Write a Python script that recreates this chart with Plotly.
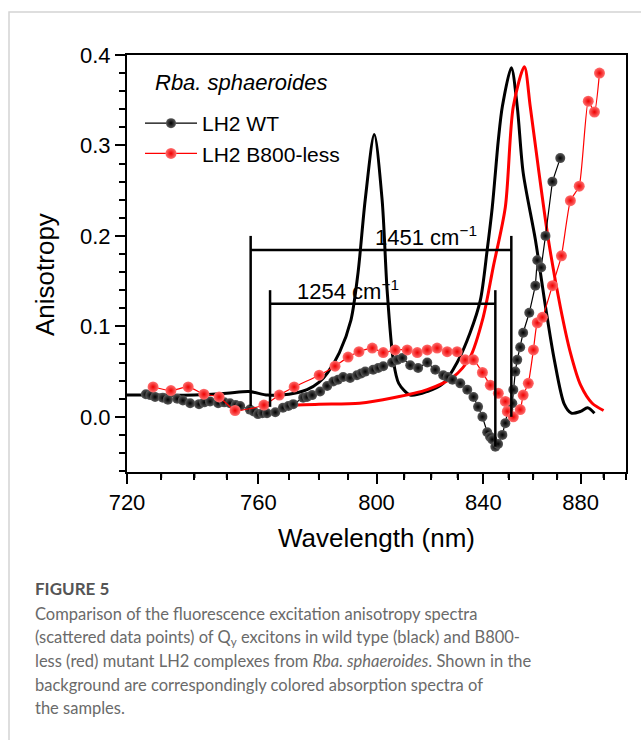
import plotly.graph_objects as go

# ---------------- data ----------------
# Absorption spectra (wavelength nm, absorbance scaled to the anisotropy axis)
abs_wt_nm = [720, 730, 740, 750, 757, 763, 770, 776, 780, 783, 787, 791, 793.5, 796,
             799.2, 802, 803.8, 806, 808, 812.2, 818.5, 824.5, 829.8, 834.8, 838.8,
             841.5, 843.5, 845.9, 847.5, 851.1, 853.5, 855.9, 860.9, 865.1, 868.8,
             873, 876, 880, 883, 886]
abs_wt_val = [0.024, 0.024, 0.024, 0.026, 0.028, 0.024, 0.025, 0.030, 0.038, 0.049, 0.071,
              0.107, 0.160, 0.240, 0.312, 0.240, 0.140, 0.063, 0.037, 0.024, 0.028, 0.037,
              0.060, 0.093, 0.129, 0.185, 0.232, 0.306, 0.343, 0.386, 0.343, 0.270, 0.196,
              0.122, 0.063, 0.014, 0.004, 0.006, 0.010, 0.004]

abs_mut_nm = [772.7, 780, 794, 806, 818.5, 828.3, 834.8, 839.9, 843.9, 848.7, 851.9,
              856.4, 858.8, 862.4, 866.3, 871.3, 875.6, 880, 885, 890]
abs_mut_val = [0.013, 0.014, 0.015, 0.021, 0.030, 0.044, 0.066, 0.110, 0.166, 0.232,
               0.343, 0.387, 0.343, 0.270, 0.196, 0.122, 0.071, 0.035, 0.015, 0.007]

# Fluorescence excitation anisotropy (scattered points)
aniso_wt_nm = [725.5, 726.8, 728.2, 730.5, 732.0, 734.8, 736.5, 738.7, 741.4, 743.0,
               744.8, 747.3, 749.2, 751.0, 752.8, 754.2, 757.3, 758.5, 759.9, 761.3,
               762.8, 765.5, 768.0, 769.8, 771.4, 774.7, 776.0, 777.7, 780.4, 782.8,
               784.9, 786.5, 788.3, 790.7, 793.1, 794.6, 796.0, 798.8, 800.6, 802.4,
               805.6, 807.5, 809.3, 812.2, 815.1, 818.5, 821.5, 824.5, 826.2, 828.0,
               831.0, 833.7, 836.1, 837.9, 839.6, 841.5, 842.6, 843.5, 844.7, 845.8,
               847.5, 848.7, 849.9, 851.5, 851.9, 852.7, 853.5, 854.7, 855.9, 858.4,
               860.9, 861.7, 863.3, 865.1, 868.0, 871.3]
aniso_wt_val = [0.025, 0.024, 0.022, 0.021, 0.019, 0.020, 0.018, 0.015, 0.014, 0.016,
                0.017, 0.015, 0.016, 0.015, 0.013, 0.012, 0.008, 0.006, 0.003, 0.004,
                0.004, 0.005, 0.010, 0.012, 0.014, 0.021, 0.022, 0.024, 0.028, 0.034,
                0.039, 0.041, 0.044, 0.043, 0.046, 0.048, 0.050, 0.052, 0.054, 0.056,
                0.060, 0.063, 0.065, 0.057, 0.054, 0.060, 0.052, 0.046, 0.044, 0.041,
                0.037, 0.030, 0.022, 0.011, 0.000, -0.017, -0.022, -0.025, -0.033, -0.030,
                -0.020, -0.007, 0.008, 0.015, 0.030, 0.050, 0.063, 0.077, 0.093, 0.115,
                0.145, 0.173, 0.165, 0.200, 0.260, 0.286]

aniso_mut_nm = [727.6, 732.9, 738.1, 742.9, 747.6, 752.6, 761.8, 766.8, 771.7, 780.1,
                785.5, 790.0, 793.8, 798.5, 802.4, 806.7, 811.1, 814.8, 818.5, 822.2,
                826.0, 829.8, 832.9, 836.1, 839.6, 842.7, 845.9, 848.7, 849.5, 851.9,
                854.7, 855.9, 858.0, 860.1, 861.7, 863.8, 868.0, 871.8, 875.6, 879.4,
                883.3, 886.0, 888.2]
aniso_mut_val = [0.033, 0.029, 0.033, 0.025, 0.022, 0.007, 0.013, 0.024, 0.033, 0.046,
                 0.056, 0.066, 0.072, 0.076, 0.071, 0.074, 0.074, 0.071, 0.074, 0.076,
                 0.072, 0.072, 0.063, 0.063, 0.049, 0.035, 0.026, 0.017, 0.006, 0.000,
                 0.008, 0.024, 0.037, 0.074, 0.104, 0.110, 0.145, 0.178, 0.239, 0.255,
                 0.349, 0.337, 0.380]

# Energy gaps marked with brackets: (right-end wavelength, gap in cm^-1)
gap_b850_nm, gap_b850_cm = 851.1, 1451
gap_dip_nm, gap_dip_cm = 844.7, 1254

major_nm = [720, 760, 800, 840, 880]
minor_nm = [v for v in range(720, 901, 10) if v not in major_nm]

# ---------------- helpers ----------------
def wn(nm):
    """Wavelength (nm) -> wavenumber (cm^-1); the x axis is linear in energy."""
    return 1e7 / nm

def to_wn(seq):
    return [wn(v) for v in seq]

FONT = "Arial, Liberation Sans, sans-serif"

fig = go.Figure()

# Absorption spectra in the background
fig.add_trace(go.Scatter(x=to_wn(abs_wt_nm), y=abs_wt_val, mode="lines",
                         line=dict(color="black", width=3, shape="spline", smoothing=0.8),
                         showlegend=False, hoverinfo="skip"))
fig.add_trace(go.Scatter(x=to_wn(abs_mut_nm), y=abs_mut_val, mode="lines",
                         line=dict(color="#ff0000", width=3, shape="spline", smoothing=0.8),
                         showlegend=False, hoverinfo="skip"))

# Anisotropy data
fig.add_trace(go.Scatter(x=to_wn(aniso_wt_nm), y=aniso_wt_val, mode="lines+markers",
                         name="LH2 WT",
                         line=dict(color="black", width=1.2),
                         marker=dict(size=10, color="#5a5a5a",
                                     gradient=dict(type="radial", color="#000000"),
                                     line=dict(width=0))))
fig.add_trace(go.Scatter(x=to_wn(aniso_mut_nm), y=aniso_mut_val, mode="lines+markers",
                         name="LH2 B800-less",
                         line=dict(color="#ff0000", width=1.2, shape="spline", smoothing=0.5),
                         marker=dict(size=11, color="#ff7070",
                                     gradient=dict(type="radial", color="#ee0000"),
                                     line=dict(width=0))))

# Energy-gap brackets
def bracket(right_nm, gap_cm, y_bar, y_top, y_left_bot, y_right_bot, label, label_nm):
    x_right = wn(right_nm)
    x_left = x_right + gap_cm
    style = dict(color="black", width=2.5)
    fig.add_shape(type="line", x0=x_left, x1=x_right, y0=y_bar, y1=y_bar, line=style)
    fig.add_shape(type="line", x0=x_left, x1=x_left, y0=y_left_bot, y1=y_top, line=style)
    fig.add_shape(type="line", x0=x_right, x1=x_right, y0=y_right_bot, y1=y_top, line=style)
    fig.add_annotation(x=wn(label_nm), y=y_bar, text=label, showarrow=False,
                       xanchor="left", yanchor="bottom", yshift=-2,
                       font=dict(family=FONT, size=22, color="black"))

bracket(gap_b850_nm, gap_b850_cm, 0.1845, 0.200, 0.012, 0.0,
        "1451 cm<sup>−1</sup>", 798.8)
bracket(gap_dip_nm, gap_dip_cm, 0.125, 0.140, 0.011, -0.033,
        "1254 cm<sup>−1</sup>", 772.0)

# Sample name inside the plot
fig.add_annotation(x=0.052, y=0.933, xref="paper", yref="paper", showarrow=False,
                   text="<i>Rba. sphaeroides</i>", xanchor="left", yanchor="middle",
                   font=dict(family=FONT, size=22, color="black"))

# ---------------- layout ----------------
L, R, T, B = 127, 15, 55, 268
W, H = 641, 740
pw, ph = W - L - R, H - T - B

def px_x(px):
    return (px - L) / pw

def px_y(py):
    return (H - B - py) / ph

axis_common = dict(showgrid=False, zeroline=False, color="black")

fig.update_layout(
    width=W, height=H,
    margin=dict(l=L, r=R, t=T, b=B),
    paper_bgcolor="white", plot_bgcolor="white",
    font=dict(family=FONT, color="black"),
    xaxis=dict(range=[wn(720), wn(900)],
               tickmode="array",
               tickvals=to_wn(major_nm), ticktext=[str(v) for v in major_nm],
               ticks="outside", ticklen=10, tickwidth=2, tickcolor="black",
               minor=dict(tickmode="array", tickvals=to_wn(minor_nm),
                          ticks="outside", ticklen=6, tickwidth=2, tickcolor="black"),
               showline=True, linewidth=2, linecolor="black", mirror=True,
               tickfont=dict(size=22),
               title=dict(text="Wavelength (nm)", font=dict(size=26), standoff=14),
               **axis_common),
    yaxis=dict(range=[-0.061, 0.4],
               tickvals=[0, 0.1, 0.2, 0.3, 0.4], ticktext=["0.0", "0.1", "0.2", "0.3", "0.4"],
               ticks="outside", ticklen=10, tickwidth=2, tickcolor="black",
               minor=dict(dtick=0.02, tick0=0, ticks="outside", ticklen=6,
                          tickwidth=2, tickcolor="black"),
               showline=True, linewidth=2, linecolor="black", mirror=True,
               tickfont=dict(size=22),
               **axis_common),
    legend=dict(x=px_x(140), y=px_y(103), xanchor="left", yanchor="top",
                bgcolor="rgba(0,0,0,0)", itemwidth=52, tracegroupgap=0,
                font=dict(family=FONT, size=21, color="black")),
    showlegend=True,
)

# y-axis title, set slightly below the plot's vertical centre
fig.add_annotation(x=px_x(45), y=px_y(275), xref="paper", yref="paper", showarrow=False,
                   text="Anisotropy", textangle=-90, xanchor="center", yanchor="middle",
                   font=dict(family=FONT, size=26, color="black"))

# Minor wavelength ticks (every 10 nm, non-uniform on the energy axis)
for v in minor_nm:
    fig.add_shape(type="line", xref="x", yref="paper", x0=wn(v), x1=wn(v),
                  y0=0, y1=-6 / ph, line=dict(color="black", width=2))

# Figure panel border
fig.add_shape(type="rect", xref="paper", yref="paper",
              x0=px_x(9), x1=px_x(660), y0=px_y(760), y1=px_y(12),
              line=dict(color="#d4d4d4", width=1.5), layer="below")

# Caption
CAP_FONT = "Lato, Noto Sans, sans-serif"
fig.add_annotation(x=px_x(33), y=px_y(588), xref="paper", yref="paper", showarrow=False,
                   text="<b>FIGURE 5</b>", xanchor="left", yanchor="middle",
                   font=dict(family=CAP_FONT, size=17, color="#555555"))
caption_lines = [
    "Comparison of the fluorescence excitation anisotropy spectra",
    "(scattered data points) of Q<sub>y</sub> excitons in wild type (black) and B800-",
    "less (red) mutant LH2 complexes from <i>Rba. sphaeroides</i>. Shown in the",
    "background are correspondingly colored absorption spectra of",
    "the samples.",
]
for i, line in enumerate(caption_lines):
    fig.add_annotation(x=px_x(33), y=px_y(614 + i * 23.5), xref="paper", yref="paper",
                       showarrow=False, text=line, xanchor="left", yanchor="middle",
                       font=dict(family=CAP_FONT, size=16.5, color="#6a6a6a"))

fig.write_html("out.html")
